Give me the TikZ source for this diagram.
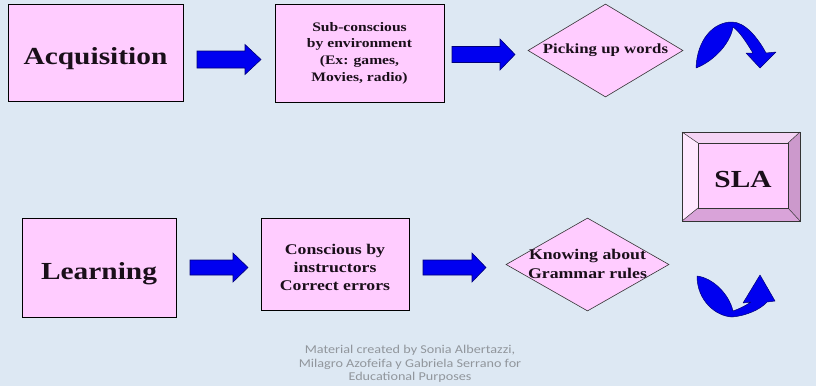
\documentclass[tikz,border=0pt]{standalone}
\usepackage{fontspec}
\usetikzlibrary{shapes.geometric}
\newfontfamily\tnr[FakeStretch=1.2]{Liberation Serif}
\newfontfamily\footfont[FakeStretch=1.18]{Carlito}
\definecolor{bg}{RGB}{221,232,243}
\definecolor{pinkf}{RGB}{255,204,255}
\definecolor{arrf}{RGB}{0,0,240}
\definecolor{arrd}{RGB}{0,0,120}
\definecolor{txt}{RGB}{26,15,26}
\definecolor{foot}{RGB}{145,150,156}
\definecolor{bevtop}{RGB}{245,212,245}
\definecolor{bevleft}{RGB}{255,232,255}
\definecolor{bevright}{RGB}{204,153,204}
\definecolor{bevbot}{RGB}{217,163,217}
\newcommand\barrow[6]{%
  \fill[arrf,draw=arrd,line width=0.6pt,line join=miter]
    (#1,#3-#4) -- (#6,#3-#4) -- (#6,#3-#5) -- (#2,#3) -- (#6,#3+#5)
    -- (#6,#3+#4) -- (#1,#3+#4) -- cycle;}
\begin{document}
\begin{tikzpicture}[x=1pt,y=-1pt,
  box/.style={draw=black,line width=0.7pt,fill=pinkf,inner sep=0pt,align=center,text=txt},
  dia/.style={diamond,draw=black!80,line width=0.6pt,fill=pinkf,inner sep=0pt},
  big/.style={font=\tnr\bfseries\fontsize{24.5}{28}\selectfont,text height=23pt,text depth=0pt},
  mid/.style={font=\tnr\bfseries\fontsize{13}{16.7}\selectfont},
  curv/.style={fill=arrf,draw=arrd,line width=0.5pt,line join=round}]
\useasboundingbox (0,0) rectangle (816,386);
\fill[bg] (0,0) rectangle (816,386);

% top row
\node[box,big,minimum width=175,minimum height=97] (acq) at (95.5,52.5) {Acquisition};
\node[box,mid,minimum width=169,minimum height=98] (sub) at (359.5,53)
  {Sub-conscious\\by environment\\(Ex: games,\\Movies, radio)};
\node[dia,minimum width=155,minimum height=93,
  label={[text=txt,font=\tnr\bfseries\fontsize{14}{17}\selectfont]center:Picking up words}] (pick) at (605.5,50.5) {};

\barrow{197}{261}{59.5}{8.5}{15}{245}
\barrow{452}{515}{54.5}{8}{15.5}{500}

% curved down arrow
\path[curv] (696,68) .. controls (697,40) and (713,22) .. (732,22)
  .. controls (745,22) and (758,38) .. (766,53) -- (776,52) -- (760,68)
  -- (746,53) -- (753,53) .. controls (746,42) and (740,32) .. (733,27)
  .. controls (730,45) and (712,62) .. (696,68) -- cycle;

% SLA bevel box
\fill[bevtop] (682,132) -- (800,132) -- (788,143) -- (698,143) -- cycle;
\fill[bevleft] (682,132) -- (698,143) -- (698,208) -- (682,221) -- cycle;
\fill[bevright] (800,132) -- (800,221) -- (788,208) -- (788,143) -- cycle;
\fill[bevbot] (682,221) -- (800,221) -- (788,208) -- (698,208) -- cycle;
\draw[black!80,line width=0.5pt] (682,132) -- (698,143) (800,132) -- (788,143)
  (800,221) -- (788,208) (682,221) -- (698,208);
\draw[black!80,line width=0.7pt] (682,132) rectangle (800,221);
\node[box,big,draw=black!80,line width=0.5pt,minimum width=90,minimum height=65] (sla) at (743,175.5) {SLA};

% bottom row
\node[box,big,minimum width=154,minimum height=99] (learn) at (99,267.5) {Learning};
\node[box,minimum width=148,minimum height=92,
  label={[text=txt,align=center,font=\tnr\bfseries\fontsize{14.8}{18}\selectfont,yshift=-3pt]center:Conscious by\\instructors\\Correct errors}] (cons) at (335,264.5) {};
\node[dia,minimum width=163,minimum height=93,
  label={[text=txt,align=center,font=\tnr\bfseries\fontsize{14.8}{19}\selectfont,yshift=1pt]center:Knowing about\\Grammar rules}] (know) at (587.5,264.5) {};

\barrow{190}{248}{267.5}{7.5}{14.5}{233}
\barrow{423}{486}{267.5}{7.5}{14.5}{472}

% curved up arrow
\path[curv] (697,276) .. controls (697,300) and (715,316) .. (732,317)
  .. controls (745,316) and (760,310) .. (767,302) -- (775,301) -- (760,275)
  -- (743,303) -- (751,302) .. controls (745,306) and (739,309) .. (733,311)
  .. controls (729,294) and (713,278) .. (697,276) -- cycle;

% footer
\node[text=foot,align=center,font=\footfont\fontsize{12}{13.5}\selectfont] (credit) at (410,364)
  {Material created by Sonia Albertazzi,\\Milagro Azofeifa y Gabriela Serrano for\\Educational Purposes};
\end{tikzpicture}
\end{document}
